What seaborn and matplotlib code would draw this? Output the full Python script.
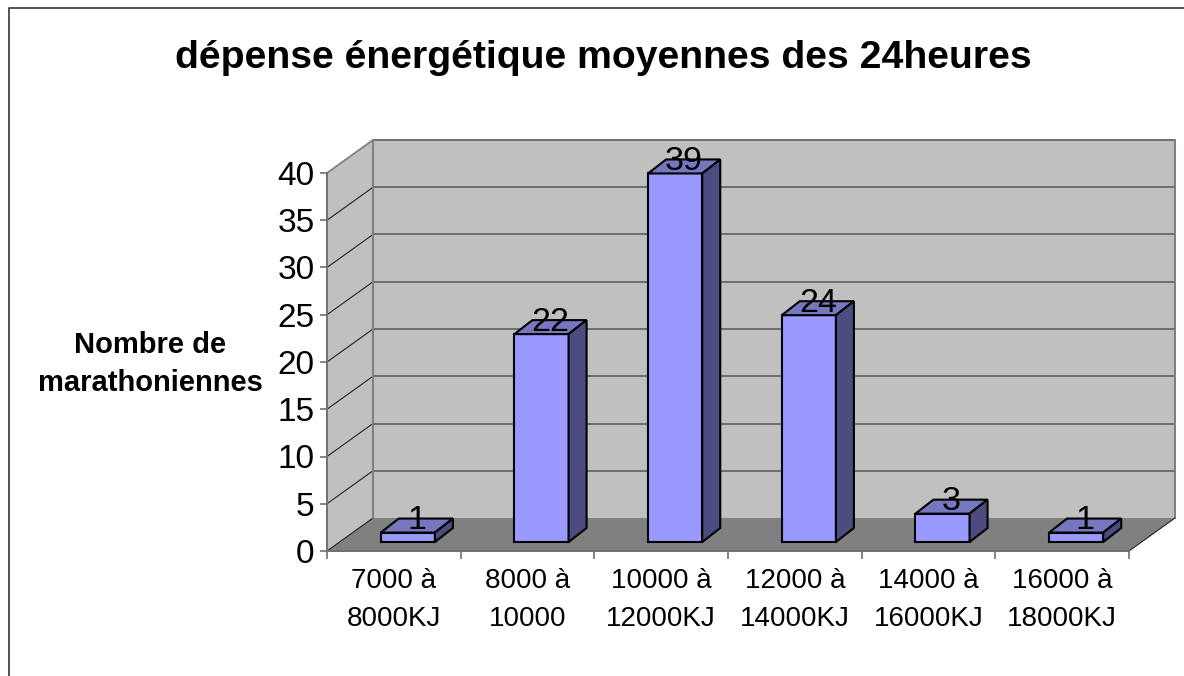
import pandas as pd
import seaborn as sns
import matplotlib
matplotlib.use("Agg")
import matplotlib.pyplot as plt
from matplotlib.lines import Line2D
from matplotlib.patches import Polygon
from matplotlib.transforms import Affine2D, IdentityTransform

categories = ["7000 à\n8000KJ", "8000 à\n10000", "10000 à\n12000KJ",
              "12000 à\n14000KJ", "14000 à\n16000KJ", "16000 à\n18000KJ"]
values = [1, 22, 39, 24, 3, 1]
y_ticks = [0, 5, 10, 15, 20, 25, 30, 35, 40]

sns.set_theme(style="white")
plt.rcParams['font.family'] = ['Liberation Sans', 'DejaVu Sans']

W, H = 1184, 676
fig = plt.figure(figsize=(W / 100, H / 100), dpi=100, facecolor="white")
ax = fig.add_axes([327 / W, (H - 551) / H, 802 / W, 378 / H])
ax.patch.set_visible(False)

df = pd.DataFrame({"cat": categories, "val": values})
sns.barplot(data=df, x="cat", y="val", order=categories, color="#9999ff", saturation=1,
            width=0.405, edgecolor="black", linewidth=1.5, ax=ax, zorder=3)
ax.set_xlim(-0.5, 5.5)
ax.set_ylim(0, 40)

# pixel depth of the fake 3d box
wall_dx, wall_dy = 46, 33
front_dx, front_dy = 14, 9
bar_dx, bar_dy = 18, 14


def px(x, y, dx=0, dy=0):
    p = ax.transData.transform((x, y))
    return (p[0] + dx, p[1] + dy)


def poly(pts, color, z=1, ec="none", lw=0):
    ax.add_patch(Polygon(pts, closed=True, facecolor=color, edgecolor=ec, linewidth=lw,
                         transform=IdentityTransform(), clip_on=False, zorder=z))


def line(a, b, color, lw, z=1.5):
    ax.add_line(Line2D([a[0], b[0]], [a[1], b[1]], color=color, linewidth=lw,
                       transform=IdentityTransform(), clip_on=False, zorder=z))


# walls and floor
poly([px(-0.5, 0, wall_dx, wall_dy), px(5.5, 0, wall_dx, wall_dy),
      px(5.5, 40, wall_dx, wall_dy), px(-0.5, 40, wall_dx, wall_dy)], "#c0c0c0")
poly([px(-0.5, 0), px(-0.5, 0, wall_dx, wall_dy), px(-0.5, 40, wall_dx, wall_dy), px(-0.5, 40)], "#c0c0c0")
poly([px(-0.5, 0), px(5.5, 0), px(5.5, 0, wall_dx, wall_dy), px(-0.5, 0, wall_dx, wall_dy)], "#808080")

for t in y_ticks[1:]:
    line(px(-0.5, t, wall_dx, wall_dy), px(5.5, t, wall_dx, wall_dy), "#666666", 1.3)
    c = "#808080" if t == 40 else "#222222"
    line(px(-0.5, t), px(-0.5, t, wall_dx, wall_dy), c, 1.3 if t == 40 else 0.8)
line(px(-0.5, 0), px(-0.5, 0, wall_dx, wall_dy), "#222222", 0.8)
line(px(-0.5, 0, wall_dx, wall_dy), px(-0.5, 40, wall_dx, wall_dy), "#808080", 1.5)
line(px(5.5, 0, wall_dx, wall_dy), px(5.5, 40, wall_dx, wall_dy), "#808080", 1.5)
line(px(5.5, 0), px(5.5, 0, wall_dx, wall_dy), "#222222", 0.8)

# shift the seaborn bars into the box and add their top and side faces
shift = Affine2D().translate(front_dx, front_dy)
for bar, v in zip(ax.patches[:len(values)], values):
    x0, x1 = bar.get_x(), bar.get_x() + bar.get_width()
    bar.set_transform(ax.transData + shift)
    bar.set_clip_on(False)
    a = px(x0, v, front_dx, front_dy)
    b = px(x1, v, front_dx, front_dy)
    c = px(x1, 0, front_dx, front_dy)
    poly([a, b, (b[0] + bar_dx, b[1] + bar_dy), (a[0] + bar_dx, a[1] + bar_dy)],
         "#7777c0", z=3, ec="black", lw=1.5)
    poly([b, c, (c[0] + bar_dx, c[1] + bar_dy), (b[0] + bar_dx, b[1] + bar_dy)],
         "#4c4c80", z=3, ec="black", lw=1.5)
    mid = (x0 + x1) / 2
    lab = px(mid, v, front_dx + 9, front_dy + 12)
    ax.text(lab[0], lab[1], str(v), transform=IdentityTransform(), ha="center", va="center",
            fontsize=24.5, color="black", zorder=5, clip_on=False)

# axes
for s in ["top", "right"]:
    ax.spines[s].set_visible(False)
for s in ["left", "bottom"]:
    ax.spines[s].set_color("#707070")
    ax.spines[s].set_linewidth(1.4)
    ax.spines[s].set_zorder(2)

ax.set_yticks(y_ticks)
ax.tick_params(axis="y", length=5, width=1.2, color="#707070", left=True, labelsize=24,
               labelcolor="black", pad=4)
ax.set_xticks(range(len(categories)))
ax.set_xticklabels(categories, fontsize=20, color="black", linespacing=1.6)
ax.set_xticks([i - 0.5 for i in range(len(categories) + 1)], minor=True)
ax.tick_params(axis="x", which="major", length=0, pad=12)
ax.tick_params(axis="x", which="minor", length=6, width=1.2, color="#707070", bottom=True)

ax.set_xlabel("")
ax.set_ylabel("Nombre de\nmarathoniennes", rotation=0, fontsize=21, fontweight="bold",
              color="black", ha="center", va="center", multialignment="center", linespacing=1.45)
ax.yaxis.set_label_coords((150 - 327) / 802, (551 - 364) / 378)

fig.text(603.5 / W, 1 - 58 / H, "dépense énergétique moyennes des 24heures", ha="center", va="center",
         fontsize=28.2, fontweight="bold", color="black")

# outer frame, only left and top are inside the picture
fig.add_artist(Line2D([9 / W, 9 / W, 1], [0, 1 - 8 / H, 1 - 8 / H], color="#333333", linewidth=1.2))

fig.savefig("out.png", dpi=100)
